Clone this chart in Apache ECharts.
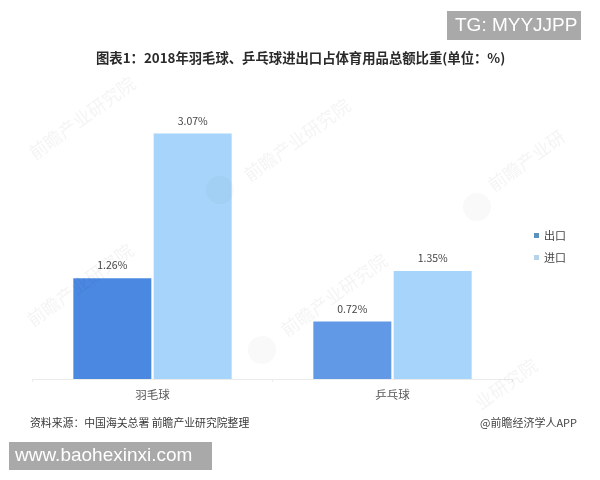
<!DOCTYPE html>
<html>
<head>
<meta charset="utf-8">
<script src="https://cdn.jsdelivr.net/npm/echarts@6/dist/echarts.min.js"></script>
<style>
  html, body { margin: 0; padding: 0; background: #fff; }
  #chart { width: 600px; height: 480px; }
</style>
</head>
<body>
<div id="chart"></div>
<script>
const categories = ['羽毛球', '乒乓球']
const exportValues = [1.26, 0.72]
const importValues = [3.07, 1.35]
const exportColors = ['#4a88e2', '#6299e7']
const titleText = '图表1：2018年羽毛球、乒乓球进出口占体育用品总额比重(单位：%)'
const sourceText = '资料来源：中国海关总署 前瞻产业研究院整理'
const creditText = '@前瞻经济学人APP'

const cjk = '"Noto Sans CJK SC", sans-serif'
const myChart = echarts.init(document.getElementById('chart'))

// 水印：半透明盖在柱子上面，边上被裁掉的只写露出来的几个字
const wmText = (text, x, y, align) => {
  return {
    type: 'text',
    x: x,
    y: y,
    rotation: (36 * Math.PI) / 180,
    z: 50,
    silent: true,
    style: {
      text: text,
      font: '18px ' + cjk,
      fill: 'rgba(60,60,60,0.055)',
      align: align,
      verticalAlign: 'middle'
    }
  }
}
const wmLogo = (x, y) => {
  return {
    type: 'circle',
    z: 50,
    silent: true,
    shape: { cx: x, cy: y, r: 14 },
    style: { fill: 'rgba(60,60,60,0.03)' }
  }
}
const watermarks = [
  wmText('前瞻产业研究院', 82, 118, 'center'),
  wmText('前瞻产业研究院', 297, 140, 'center'),
  wmText('前瞻产业研', 490, 187, 'left'),
  wmText('前瞻产业研究院', 80, 285, 'center'),
  wmText('前瞻产业研究院', 334, 295, 'center'),
  wmText('业研究院', 535, 363, 'right'),
  wmLogo(220, 190),
  wmLogo(477, 207),
  wmLogo(262, 350)
]

const valueLabel = {
  show: true,
  position: 'top',
  distance: 7.5,
  formatter: (p) => p.value.toFixed(2) + '%',
  fontFamily: cjk,
  fontSize: 10.5,
  color: '#444'
}

const option = {
  animation: false,
  backgroundColor: '#fff',
  title: {
    text: titleText,
    left: 91,
    top: 46,
    textStyle: {
      fontFamily: cjk,
      fontSize: 13.35,
      fontWeight: 'bold',
      color: '#2a2a2a'
    }
  },
  legend: {
    orient: 'vertical',
    left: 529,
    top: 225,
    itemWidth: 5,
    itemHeight: 5,
    itemGap: 11,
    icon: 'rect',
    data: [
      { name: '出口', itemStyle: { color: '#5a92bd' } },
      { name: '进口', itemStyle: { color: '#b5d3ea' } }
    ],
    textStyle: { fontFamily: cjk, fontSize: 11, color: '#444' }
  },
  grid: { left: 32.5, right: 87.5, top: 99, bottom: 101 },
  xAxis: {
    type: 'category',
    data: categories,
    axisLine: { lineStyle: { color: '#ececec', width: 1 } },
    axisTick: { show: true, length: 3, lineStyle: { color: '#ececec' } },
    axisLabel: { fontFamily: cjk, fontSize: 11.5, color: '#555', margin: 10 }
  },
  yAxis: {
    type: 'value',
    min: 0,
    max: 3.5,
    show: false,
    splitLine: { show: false }
  },
  series: [
    {
      name: '出口',
      type: 'bar',
      barWidth: 78,
      barGap: '3%',
      data: exportValues.map((v, i) => {
        return { value: v, itemStyle: { color: exportColors[i] } }
      }),
      label: valueLabel
    },
    {
      name: '进口',
      type: 'bar',
      barWidth: 78,
      data: importValues,
      itemStyle: { color: '#a6d4fa' },
      label: valueLabel
    }
  ],
  graphic: watermarks.concat([
    {
      type: 'text',
      left: 30,
      top: 417,
      style: { text: sourceText, font: '10.85px ' + cjk, fill: '#3a3a3a' }
    },
    {
      type: 'text',
      right: 23,
      top: 417,
      style: { text: creditText, font: '11px ' + cjk, fill: '#444' }
    },
    // 两个灰色角标
    {
      type: 'group',
      left: 447,
      top: 11,
      z: 60,
      children: [
        { type: 'rect', shape: { x: 0, y: 0, width: 134, height: 29 }, style: { fill: '#a9a9a9' } },
        {
          type: 'text',
          x: 8,
          y: 15,
          style: { text: 'TG: MYYJJPP', font: '19px "Liberation Sans", sans-serif', fill: '#fff', verticalAlign: 'middle' }
        }
      ]
    },
    {
      type: 'group',
      left: 9,
      top: 442,
      z: 60,
      children: [
        { type: 'rect', shape: { x: 0, y: 0, width: 203, height: 28 }, style: { fill: '#a9a9a9' } },
        {
          type: 'text',
          x: 6,
          y: 14,
          style: { text: 'www.baohexinxi.com', font: '19px "Liberation Sans", sans-serif', fill: '#fff', verticalAlign: 'middle' }
        }
      ]
    }
  ])
}

myChart.setOption(option)
</script>
</body>
</html>
